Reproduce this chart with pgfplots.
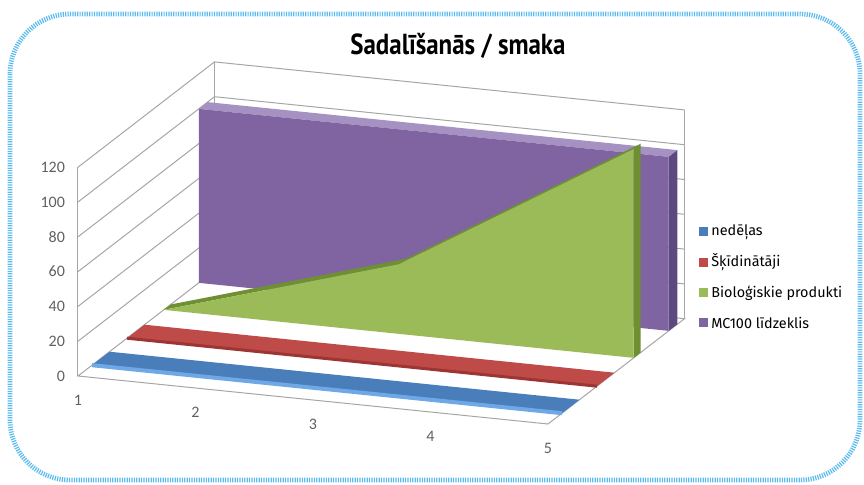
\documentclass[border=0pt]{standalone}
\usepackage{pgfplots}
\pgfplotsset{compat=1.18}
\usetikzlibrary{calc}
\usepackage{fontspec}
\setmainfont{Carlito}
\newfontfamily\titlefont[FakeStretch=0.86]{PT Sans}
\newfontfamily\legfont{Fira Sans}
\definecolor{cBlue}{HTML}{4A7EBB}
\definecolor{cBlueL}{HTML}{6FA8E6}
\definecolor{cRed}{HTML}{BE4B48}
\definecolor{cRedD}{HTML}{9C3533}
\definecolor{cGreen}{HTML}{9BBB59}
\definecolor{cGreenD}{HTML}{6E8F32}
\definecolor{cPurple}{HTML}{8064A2}
\definecolor{cPurpleD}{HTML}{5E4880}
\definecolor{cPurpleL}{HTML}{A592C2}
\definecolor{cBorder}{HTML}{5ABBEE}
\definecolor{cGrid}{HTML}{A6A6A6}
\definecolor{cTick}{HTML}{606060}
\begin{document}
\begin{tikzpicture}
\begin{axis}[
  x={(58.75pt,-6pt)}, y={(17.5pt,13.5pt)}, z={(0pt,0.87pt)},
  xmin=1, xmax=5, ymin=0, ymax=3.9, zmin=0, zmax=120,
  hide axis, clip=false,
]
% walls and gridlines
\pgfplotsinvokeforeach{20,40,60,80,100,120}{
  \draw[cGrid, line width=0.5pt] (axis cs:1,0,#1) -- (axis cs:1,3.9,#1) -- (axis cs:5,3.9,#1);
}
\draw[cGrid, line width=0.5pt] (axis cs:1,0,0) -- (axis cs:5,0,0) -- (axis cs:5,3.9,0) -- (axis cs:1,3.9,0) -- cycle;
\draw[cGrid, line width=0.5pt] (axis cs:1,0,0) -- (axis cs:1,0,120);
\draw[cGrid, line width=0.5pt] (axis cs:1,3.9,0) -- (axis cs:1,3.9,120);
\draw[cGrid, line width=0.5pt] (axis cs:5,3.9,0) -- (axis cs:5,3.9,120);
% tick labels
\pgfplotsinvokeforeach{0,20,40,60,80,100,120}{
  \node[anchor=east, text=cTick, font=\fontsize{8}{9}\selectfont, xshift=-3pt] at (axis cs:1,0,#1) {#1};
}
\pgfplotsinvokeforeach{1,2,3,4,5}{
  \node[text=cTick, font=\fontsize{8}{9}\selectfont, yshift=-12pt] at (axis cs:#1,0,0) {#1};
}
\coordinate (O) at (axis cs:1,0,0);

% MC100 lidzeklis (purple), value 100
\addplot3[fill=cPurpleL, draw=none, mark=none] coordinates {(1,3.45,100) (2,3.45,100) (3,3.45,100) (4,3.45,100) (5,3.45,100) (5,3.7,100) (4,3.7,100) (3,3.7,100) (2,3.7,100) (1,3.7,100)};
\addplot3[fill=cPurpleD, draw=none, mark=none] coordinates {(5,3.45,0) (5,3.45,100) (5,3.7,100) (5,3.7,0)};
\addplot3[fill=cPurple, draw=none, mark=none] coordinates {(1,3.45,0) (1,3.45,100) (2,3.45,100) (3,3.45,100) (4,3.45,100) (5,3.45,100) (5,3.45,0)};

% Biologiskie produkti (green)
\addplot3[fill=cGreenD, draw=none, mark=none] coordinates {(1,2.45,0) (2,2.45,20) (3,2.45,40) (4,2.45,80) (5,2.45,120) (5,2.65,120) (4,2.65,80) (3,2.65,40) (2,2.65,20) (1,2.65,0)};
\addplot3[fill=cGreenD, draw=none, mark=none] coordinates {(5,2.45,0) (5,2.45,120) (5,2.65,120) (5,2.65,0)};
\addplot3[fill=cGreen, draw=none, mark=none] coordinates {(1,2.45,0) (2,2.45,20) (3,2.45,40) (4,2.45,80) (5,2.45,120) (5,2.45,0)};

% Skidinataji (red), value 0
\addplot3[fill=cRed, draw=none, mark=none] coordinates {(1,1.4,0) (2,1.4,0) (3,1.4,0) (4,1.4,0) (5,1.4,0) (5,1.9,0) (4,1.9,0) (3,1.9,0) (2,1.9,0) (1,1.9,0)};
\addplot3[draw=cRedD, line width=1.5pt, mark=none] coordinates {(1,1.4,0) (2,1.4,0) (3,1.4,0) (4,1.4,0) (5,1.4,0)};

% nedelas (blue), value 0
\addplot3[fill=cBlue, draw=none, mark=none] coordinates {(1,0.4,0) (2,0.4,0) (3,0.4,0) (4,0.4,0) (5,0.4,0) (5,0.9,0) (4,0.9,0) (3,0.9,0) (2,0.9,0) (1,0.9,0)};
\addplot3[draw=cBlueL, line width=2pt, mark=none] coordinates {(1,0.4,0) (2,0.4,0) (3,0.4,0) (4,0.4,0) (5,0.4,0)};
\end{axis}

\begin{scope}[shift={($(O)+(-39pt,188pt)$)}, x=0.5pt, y=-0.5pt]
\draw[cBorder, line width=2.4pt, dash pattern=on 0.6pt off 0.6pt, rounded corners=30pt] (10,14) rectangle (860,480);
\node[font={\titlefont\bfseries\fontsize{14.5}{17}\selectfont}] at (458,46) {Sadalīšanās / smaka};
\begin{scope}[font={\legfont\fontsize{7.2}{8}\selectfont}]
\fill[cBlue] (699,227) rectangle (708,236);
\node[anchor=west, inner sep=0pt] at (711,232) {nedēļas};
\fill[cRed] (699,258) rectangle (708,267);
\node[anchor=west, inner sep=0pt] at (711,262) {Šķīdinātāji};
\fill[cGreen] (699,288) rectangle (708,297);
\node[anchor=west, inner sep=0pt] at (711,293) {Bioloģiskie produkti};
\fill[cPurple] (699,318) rectangle (708,327);
\node[anchor=west, inner sep=0pt] at (711,323) {MC100 līdzeklis};
\end{scope}
\pgfresetboundingbox
\path[use as bounding box] (0,0) rectangle (864,484);
\end{scope}
\end{tikzpicture}
\end{document}
